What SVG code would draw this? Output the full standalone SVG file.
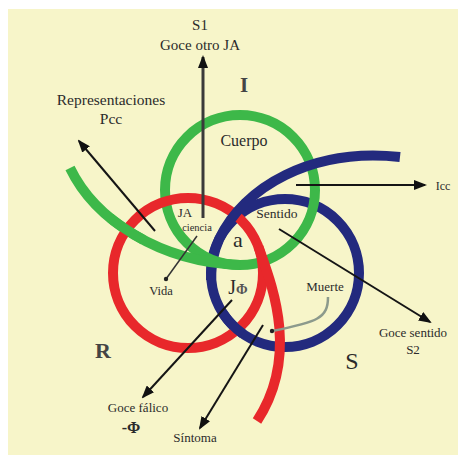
<svg xmlns="http://www.w3.org/2000/svg" width="458" height="455" viewBox="0 0 458 455">
<defs>
<style>
.ring{fill:none;stroke-width:10;stroke-linecap:butt}
.g{stroke:#3db849}.r{stroke:#e8282b}.b{stroke:#232a7e}
.arr{fill:none;stroke:#151515;stroke-width:2}
.t{font-family:"Liberation Serif","Times New Roman",serif;fill:#2b2b2b;text-anchor:middle}
</style>
<marker id="ah" markerWidth="13" markerHeight="10" refX="11" refY="5" orient="auto" markerUnits="userSpaceOnUse">
<path d="M0,0 L13,5 L0,10 z" fill="#111"/>
</marker>
</defs>
<rect x="8" y="9" width="450" height="446" fill="#f7f5c9"/>

<g id="ring-S-base">
<circle class="ring b" cx="285" cy="273" r="74"/>
<path class="ring b" d="M211,280 C211,266 213.2,252.2 219.2,239.2"/>
</g>
<g id="ring-I">
<circle class="ring g" cx="240" cy="190" r="75"/>
<path class="ring g" d="M70,168 C95,220 160,262 240,265"/>
</g>
<g id="ring-R">
<circle class="ring r" cx="188" cy="273" r="75"/>
<path class="ring r" d="M258.5,247 C272,285 300,355 257,421"/>
</g>
<g id="ring-overlaps">
<path class="ring b" d="M219.2,239.2 C243.2,187.1 312,147.4 400,157"/>
<path class="ring g" d="M109.8,217.7 Q125,229.8 143.3,239.9"/>
<path class="ring b" d="M242.6,333.6 A74,74 0 0 1 222.2,312.2"/>
</g>

<g id="connectors">
<line x1="203" y1="218" x2="203" y2="57" style="stroke:#3a3a3a;stroke-width:3" marker-end="url(#ah)"/>
<line class="arr" x1="155" y1="231" x2="79" y2="141" marker-end="url(#ah)"/>
<line class="arr" x1="296" y1="185" x2="425" y2="185" marker-end="url(#ah)"/>
<line class="arr" x1="279" y1="229" x2="430" y2="322" marker-end="url(#ah)"/>
<line class="arr" x1="232" y1="300" x2="143" y2="397" marker-end="url(#ah)"/>
<line class="arr" x1="263" y1="325" x2="200" y2="428" marker-end="url(#ah)"/>
<line x1="197" y1="236" x2="166" y2="279" stroke="#333" stroke-width="1.5"/>
<circle cx="166" cy="279" r="2.2" fill="#222"/>
<path d="M328,297 C328,318 318,322 272,331" fill="none" stroke="#8c9a8c" stroke-width="2.5"/>
<circle cx="272" cy="331" r="2.2" fill="#222"/>
</g>

<g id="labels">
<text class="t" x="200" y="30" font-size="15">S1</text>
<text class="t" x="200" y="50" font-size="15">Goce otro JA</text>
<text class="t" x="244" y="92" font-size="21" font-weight="bold" style="fill:#444">I</text>
<text class="t" x="111" y="105" font-size="15.5">Representaciones</text>
<text class="t" x="111" y="124" font-size="15.5">Pcc</text>
<text class="t" x="244" y="146" font-size="16">Cuerpo</text>
<text class="t" x="185" y="217" font-size="13">JA</text>
<text class="t" x="197" y="231" font-size="10.5">ciencia</text>
<text class="t" x="238" y="247" font-size="22">a</text>
<text class="t" x="277" y="218" font-size="13.5">Sentido</text>
<text class="t" x="443" y="190" font-size="12">Icc</text>
<text class="t" x="161" y="295" font-size="12.5">Vida</text>
<text class="t" x="238" y="294" font-size="20">J<tspan font-size="14" font-weight="bold" style="fill:#555">Φ</tspan></text>
<text class="t" x="325" y="291" font-size="13">Muerte</text>
<text class="t" x="413" y="337" font-size="13">Goce sentido</text>
<text class="t" x="413" y="354" font-size="13">S2</text>
<text class="t" x="352" y="369" font-size="24">S</text>
<text class="t" x="103" y="358" font-size="22" font-weight="bold" style="fill:#444">R</text>
<text class="t" x="138" y="412" font-size="13">Goce fálico</text>
<text class="t" x="131" y="433" font-size="16" font-weight="bold">-Φ</text>
<text class="t" x="195" y="442" font-size="13">Síntoma</text>
</g>
</svg>
